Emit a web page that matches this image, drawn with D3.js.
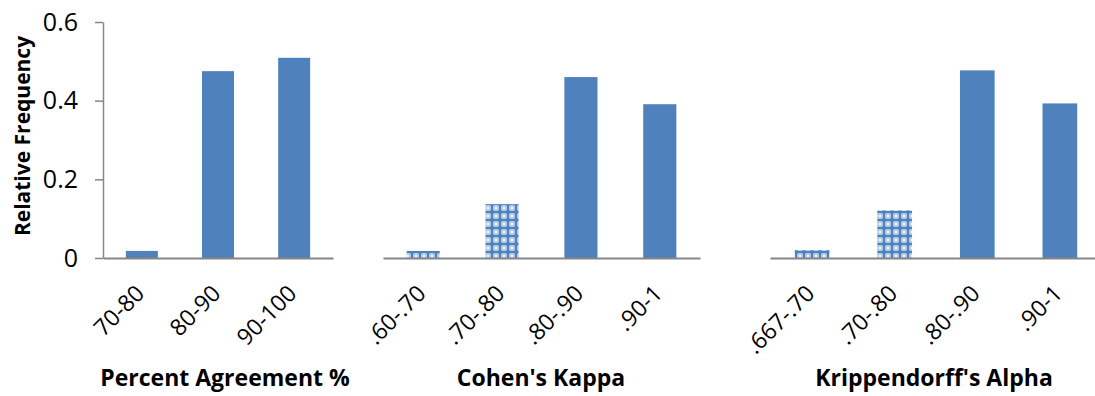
<!DOCTYPE html>
<html>
<head>
<meta charset="utf-8">
<script src="https://cdn.jsdelivr.net/npm/d3@7"></script>
<style>
  body { margin: 0; background: #fff; }
  svg { display: block; font-family: "Open Sans", "DejaVu Sans", sans-serif; }
</style>
</head>
<body>
<svg id="chart" width="1095" height="396"></svg>
<script>
// data
const agreementCats = ["70-80", "80-90", "90-100"];
const agreementVals = [0.018, 0.475, 0.509];

const kappaCats = [".60-.70", ".70-.80", ".80-.90", ".90-1"];
const kappaVals = [0.018, 0.137, 0.460, 0.391];

const alphaCats = [".667-.70", ".70-.80", ".80-.90", ".90-1"];
const alphaVals = [0.020, 0.121, 0.477, 0.393];

const panelTitles = ["Percent Agreement %", "Cohen's Kappa", "Krippendorff's Alpha"];
const yTicks = [0, 0.2, 0.4, 0.6];
const patterned = [".60-.70", ".70-.80", ".667-.70"]; // low-agreement bins, drawn with the checked fill

const svg = d3.select('#chart');
const blue = '#4F81BD';
const axisGrey = '#868686';

// checked fill like the original
const defs = svg.append('defs');
const pat = defs.append('pattern')
    .attr('id', 'checks')
    .attr('patternUnits', 'userSpaceOnUse')
    .attr('width', 8).attr('height', 8);
pat.append('rect').attr('width', 8).attr('height', 8).attr('fill', '#b4cae7');
pat.append('rect').attr('x', 2).attr('y', 2).attr('width', 4).attr('height', 4).attr('fill', '#7ba0d0');
pat.append('rect').attr('x', 3).attr('y', 0).attr('width', 2).attr('height', 8).attr('fill', blue);
pat.append('rect').attr('x', 0).attr('y', 3).attr('width', 8).attr('height', 2).attr('fill', blue);
[[0, 0], [7, 0], [0, 7], [7, 7]].forEach(([px, py]) => {
    pat.append('rect').attr('x', px).attr('y', py).attr('width', 1).attr('height', 1).attr('fill', '#f4f7fc');
});

const y = d3.scaleLinear().domain([0, 0.6]).range([258, 22]);

const panels = [
    { cats: agreementCats, vals: agreementVals, range: [103, 333], titleX: 225 },
    { cats: kappaCats, vals: kappaVals, range: [383, 700], titleX: 541 },
    { cats: alphaCats, vals: alphaVals, range: [770, 1102], titleX: 934 }
];

panels.forEach((p, i) => {
    const x = d3.scaleBand()
        .domain(p.cats)
        .range(p.range)
        .paddingInner(0.58)
        .paddingOuter(0.3);

    const g = svg.append('g');

    g.selectAll('rect.bar')
        .data(p.cats.map((c, j) => ({ cat: c, val: p.vals[j] })))
        .join('rect')
        .attr('class', 'bar')
        .attr('x', d => x(d.cat))
        .attr('width', x.bandwidth())
        .attr('y', d => y(d.val))
        .attr('height', d => y(0) - y(d.val))
        .attr('fill', d => patterned.includes(d.cat) ? 'url(#checks)' : blue);

    // baseline
    const xAxis = g.append('g')
        .attr('transform', `translate(0,${y(0)})`)
        .call(d3.axisBottom(x).tickSize(0).tickSizeOuter(0).tickFormat(''));
    xAxis.select('.domain').attr('stroke', axisGrey).attr('stroke-width', 2);

    // rotated category labels
    g.selectAll('text.cat')
        .data(p.cats)
        .join('text')
        .attr('class', 'cat')
        .attr('text-anchor', 'end')
        .attr('transform', d => `translate(${x(d) + x.bandwidth() / 2 + 4},${y(0) + 37}) rotate(-45)`)
        .attr('font-size', 23)
        .attr('fill', '#000')
        .text(d => d);

    g.append('text')
        .attr('x', p.titleX)
        .attr('y', 386)
        .attr('text-anchor', 'middle')
        .attr('font-size', 23)
        .attr('font-weight', 'bold')
        .attr('fill', '#000')
        .text(panelTitles[i]);

    if (i === 0) {
        const yAxis = svg.append('g')
            .attr('transform', `translate(${p.range[0]},0)`)
            .call(d3.axisLeft(y).tickValues(yTicks).tickSize(8).tickSizeOuter(0).tickPadding(17)
                .tickFormat(d => d === 0 ? '0' : d3.format('.1f')(d)));
        yAxis.select('.domain').attr('stroke', axisGrey).attr('stroke-width', 1.5);
        yAxis.selectAll('.tick line').attr('stroke', axisGrey).attr('stroke-width', 1.5);
        yAxis.selectAll('.tick text').attr('font-size', 25).attr('fill', '#000')
            .attr('font-family', '"Open Sans", "DejaVu Sans", sans-serif');
    }
});

svg.append('text')
    .attr('transform', 'translate(30,136) rotate(-90)')
    .attr('text-anchor', 'middle')
    .attr('font-size', 21)
    .attr('font-weight', 'bold')
    .attr('fill', '#000')
    .text('Relative Frequency');
</script>
</body>
</html>
